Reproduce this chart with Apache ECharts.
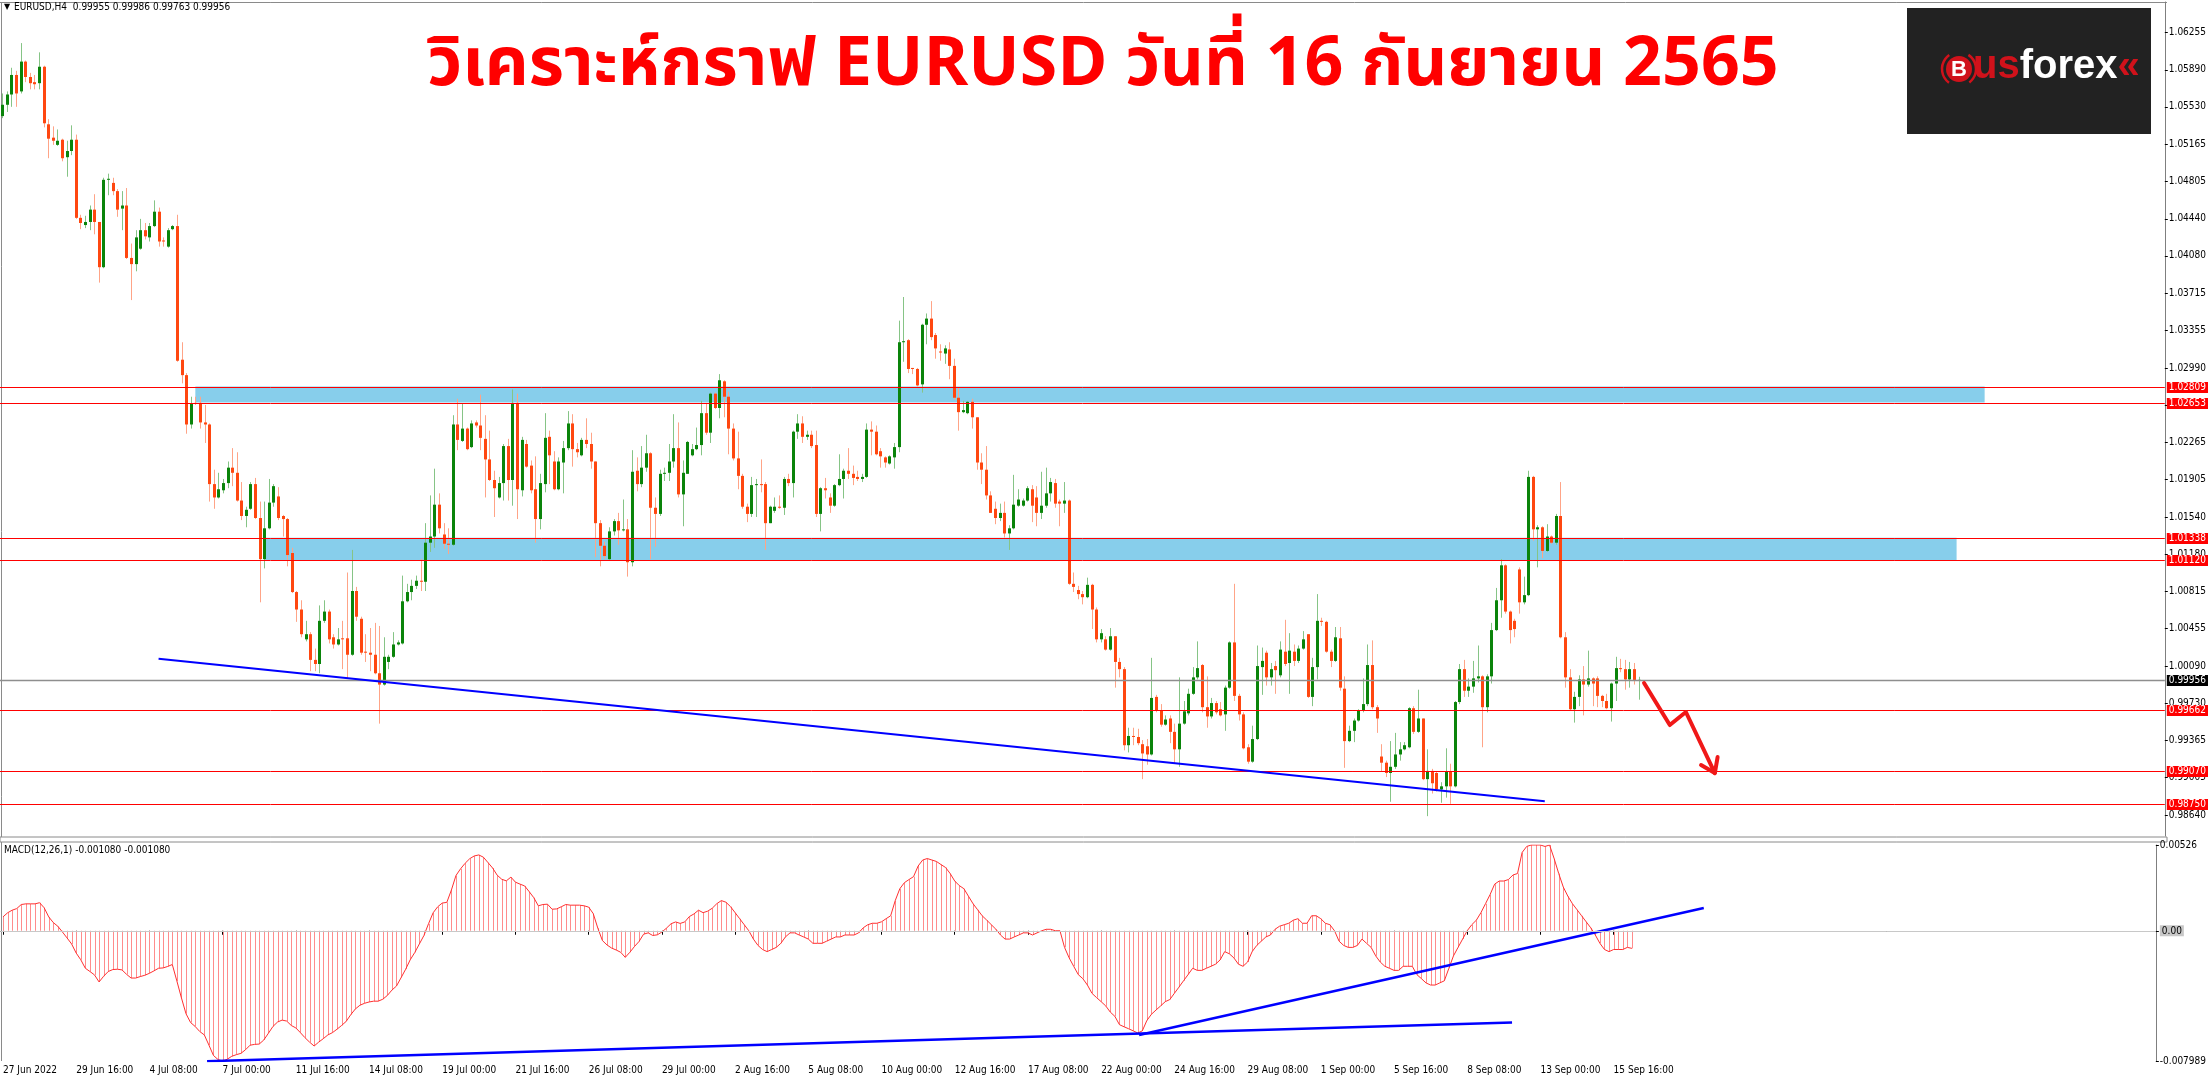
<!DOCTYPE html>
<html><head><meta charset="utf-8">
<script src="https://cdn.jsdelivr.net/npm/echarts@6/dist/echarts.min.js"></script>
<style>html,body{margin:0;padding:0;background:#fff;}#c{width:2209px;height:1080px;}</style>
</head><body><div id="c"></div>
<script>
const tickLabels = ['27 Jun 2022','29 Jun 16:00','4 Jul 08:00','7 Jul 00:00','11 Jul 16:00','14 Jul 08:00','19 Jul 00:00','21 Jul 16:00','26 Jul 08:00','29 Jul 00:00','2 Aug 16:00','5 Aug 08:00','10 Aug 00:00','12 Aug 16:00','17 Aug 08:00','22 Aug 00:00','24 Aug 16:00','29 Aug 08:00','1 Sep 00:00','5 Sep 16:00','8 Sep 08:00','13 Sep 00:00','15 Sep 16:00'];

const open = [
1.0544,1.0555,1.0565,1.0584,1.0568,1.0597,1.0582,1.0577,1.0576,1.0592,
1.0536,1.0523,1.0516,1.0521,1.0504,1.0510,1.0521,1.0445,1.0438,1.0441,
1.0453,1.0441,1.0397,1.0482,1.0479,1.0471,1.0454,1.0457,1.0406,1.0400,
1.0415,1.0433,1.0426,1.0437,1.0451,1.0423,1.0417,1.0434,1.0437,1.0307,
1.0292,1.0244,1.0265,1.0265,1.0246,1.0244,1.0186,1.0173,1.0180,1.0187,
1.0202,1.0197,1.0170,1.0155,1.0162,1.0186,1.0153,1.0113,1.0143,1.0168,
1.0174,1.0155,1.0152,1.0119,1.0081,1.0064,1.0035,1.0040,1.0015,1.0011,
1.0053,1.0062,1.0037,1.0030,1.0036,1.0036,1.0020,1.0082,1.0055,1.0023,
1.0022,1.0020,1.0002,0.9991,1.0013,1.0018,1.0030,1.0031,1.0072,1.0081,
1.0087,1.0092,1.0091,1.0129,1.0135,1.0166,1.0137,1.0128,1.0127,1.0244,
1.0228,1.0240,1.0222,1.0246,1.0243,1.0230,1.0210,1.0190,1.0173,1.0187,
1.0223,1.0190,1.0265,1.0180,1.0225,1.0204,1.0181,1.0152,1.0186,1.0232,
1.0208,1.0181,1.0207,1.0221,1.0245,1.0220,1.0214,1.0229,1.0225,1.0208,
1.0148,1.0126,1.0113,1.0140,1.0150,1.0141,1.0142,1.0110,1.0199,1.0186,
1.0202,1.0216,1.0163,1.0157,1.0196,1.0197,1.0208,1.0221,1.0176,1.0196,
1.0214,1.0220,1.0224,1.0255,1.0236,1.0274,1.0260,1.0286,1.0271,1.0240,
1.0211,1.0194,1.0164,1.0157,1.0185,1.0186,1.0186,1.0148,1.0160,1.0164,
1.0163,1.0191,1.0187,1.0237,1.0245,1.0232,1.0234,1.0224,1.0157,1.0182,
1.0173,1.0165,1.0185,1.0191,1.0199,1.0196,1.0193,1.0191,1.0193,1.0239,
1.0237,1.0218,1.0212,1.0206,1.0212,1.0222,1.0324,1.0326,1.0299,1.0298,
1.0283,1.0341,1.0347,1.0331,1.0315,1.0313,1.0317,1.0301,1.0270,1.0256,
1.0255,1.0266,1.0251,1.0207,1.0200,1.0175,1.0162,1.0153,1.0158,1.0138,
1.0143,1.0165,1.0165,1.0170,1.0181,1.0173,1.0158,1.0165,1.0177,1.0187,
1.0169,1.0167,1.0170,1.0089,1.0083,1.0079,1.0076,1.0088,1.0064,1.0035,
1.0035,1.0025,1.0038,1.0013,1.0006,0.9932,0.9941,0.9940,0.9933,0.9931,
0.9923,0.9979,0.9966,0.9952,0.9958,0.9945,0.9928,0.9953,0.9963,0.9982,
0.9998,1.0010,0.9969,0.9960,0.9973,0.9967,0.9962,0.9988,1.0032,0.9980,
0.9962,0.9930,0.9916,0.9938,1.0008,1.0022,0.9998,1.0009,1.0000,1.0023,
1.0012,1.0023,1.0014,1.0026,1.0040,0.9979,1.0008,1.0053,1.0052,1.0023,
1.0014,1.0036,0.9987,0.9936,0.9946,0.9956,0.9966,0.9972,1.0010,0.9969,
0.9921,0.9915,0.9905,0.9911,0.9923,0.9928,0.9930,0.9968,0.9945,0.9958,
0.9899,0.9907,0.9905,0.9889,0.9892,0.9906,0.9892,0.9974,1.0006,0.9985,
0.9989,0.9997,0.9999,0.9969,0.9999,1.0044,1.0073,1.0107,1.0062,1.0053,
1.0103,1.0071,1.0078,1.0193,1.0142,1.0144,1.0121,1.0135,1.0129,1.0155,
1.0037,0.9998,0.9967,0.9979,0.9996,0.9991,0.9997,0.9997,0.9980,0.9975,
0.9968,0.9992,1.0007,1.0006,0.9996,1.0006,0.99955];

const high = [
1.0566,1.0568,1.0591,1.0588,1.0615,1.0598,1.0586,1.0584,1.0606,1.0593,
1.0541,1.0534,1.0531,1.0522,1.0520,1.0535,1.0526,1.0448,1.0447,1.0457,
1.0468,1.0441,1.0484,1.0488,1.0484,1.0473,1.0471,1.0474,1.0420,1.0433,
1.0444,1.0440,1.0440,1.0462,1.0455,1.0426,1.0435,1.0438,1.0448,1.0324,
1.0294,1.0271,1.0271,1.0271,1.0263,1.0245,1.0200,1.0197,1.0191,1.0208,
1.0221,1.0217,1.0188,1.0164,1.0188,1.0192,1.0169,1.0169,1.0191,1.0186,
1.0183,1.0156,1.0153,1.0124,1.0082,1.0073,1.0053,1.0042,1.0026,1.0068,
1.0073,1.0064,1.0040,1.0046,1.0053,1.0100,1.0122,1.0086,1.0057,1.0040,
1.0046,1.0051,1.0048,1.0037,1.0020,1.0042,1.0034,1.0097,1.0089,1.0093,
1.0097,1.0113,1.0148,1.0175,1.0201,1.0177,1.0148,1.0143,1.0253,1.0269,
1.0264,1.0241,1.0248,1.0248,1.0273,1.0253,1.0238,1.0199,1.0193,1.0225,
1.0230,1.0278,1.0274,1.0232,1.0229,1.0209,1.0213,1.0196,1.0255,1.0238,
1.0218,1.0212,1.0228,1.0257,1.0254,1.0226,1.0231,1.0250,1.0236,1.0208,
1.0151,1.0130,1.0144,1.0152,1.0158,1.0171,1.0152,1.0219,1.0212,1.0223,
1.0234,1.0217,1.0173,1.0200,1.0202,1.0225,1.0254,1.0246,1.0209,1.0228,
1.0225,1.0241,1.0267,1.0265,1.0275,1.0275,1.0293,1.0287,1.0276,1.0245,
1.0237,1.0196,1.0167,1.0193,1.0191,1.0210,1.0188,1.0165,1.0173,1.0175,
1.0193,1.0196,1.0238,1.0254,1.0252,1.0238,1.0238,1.0238,1.0183,1.0192,
1.0177,1.0186,1.0215,1.0201,1.0221,1.0204,1.0199,1.0196,1.0245,1.0247,
1.0243,1.0221,1.0213,1.0214,1.0226,1.0345,1.0368,1.0327,1.0299,1.0299,
1.0342,1.0352,1.0364,1.0333,1.0322,1.0321,1.0324,1.0308,1.0280,1.0267,
1.0267,1.0269,1.0251,1.0216,1.0223,1.0179,1.0169,1.0167,1.0169,1.0146,
1.0195,1.0181,1.0172,1.0184,1.0185,1.0184,1.0198,1.0202,1.0192,1.0191,
1.0171,1.0188,1.0171,1.0100,1.0087,1.0082,1.0095,1.0089,1.0066,1.0045,
1.0038,1.0046,1.0038,1.0017,1.0008,0.9949,0.9949,0.9948,0.9937,0.9938,
1.0017,0.9981,0.9972,0.9961,0.9961,0.9953,0.9998,0.9975,0.9987,1.0008,
1.0033,1.0011,0.9999,0.9978,0.9975,0.9974,0.9990,1.0033,1.0089,0.9982,
0.9964,0.9933,0.9951,1.0029,1.0027,1.0024,1.0012,1.0014,1.0033,1.0054,
1.0041,1.0030,1.0029,1.0043,1.0040,1.0017,1.0079,1.0056,1.0053,1.0025,
1.0047,1.0047,0.9999,0.9951,0.9958,0.9967,0.9997,1.0030,1.0034,0.9971,
0.9933,0.9917,0.9936,0.9944,0.9935,0.9935,0.9969,0.9970,0.9986,0.9958,
0.9928,0.9909,0.9906,0.9896,0.9929,0.9914,0.9975,1.0011,1.0015,0.9997,
1.0014,1.0029,1.0000,1.0001,1.0051,1.0085,1.0113,1.0108,1.0063,1.0055,
1.0105,1.0096,1.0199,1.0194,1.0146,1.0145,1.0147,1.0136,1.0157,1.0188,
1.0042,1.0006,0.9984,1.0000,1.0009,1.0024,0.9998,0.9999,0.9981,0.9982,
0.9993,1.0018,1.0016,1.0015,1.0013,1.0012,0.99986];

const low = [
1.0542,1.0548,1.0553,1.0553,1.0566,1.0577,1.0570,1.0570,1.0570,1.0533,
1.0503,1.0516,1.0515,1.0500,1.0485,1.0506,1.0444,1.0434,1.0435,1.0433,
1.0429,1.0382,1.0396,1.0467,1.0467,1.0446,1.0433,1.0405,1.0365,1.0393,
1.0414,1.0424,1.0422,1.0436,1.0417,1.0417,1.0416,1.0433,1.0305,1.0284,
1.0235,1.0240,1.0263,1.0240,1.0226,1.0169,1.0162,1.0172,1.0177,1.0182,
1.0184,1.0169,1.0151,1.0144,1.0161,1.0152,1.0071,1.0104,1.0142,1.0164,
1.0151,1.0135,1.0106,1.0080,1.0052,1.0037,1.0033,1.0004,1.0004,1.0002,
1.0051,1.0031,1.0026,1.0029,1.0006,0.9997,1.0019,1.0053,1.0020,1.0013,
1.0004,1.0001,0.9953,0.9990,1.0006,1.0017,1.0029,1.0030,1.0071,1.0073,
1.0084,1.0082,1.0082,1.0120,1.0124,1.0138,1.0123,1.0118,1.0126,1.0219,
1.0227,1.0219,1.0221,1.0241,1.0219,1.0173,1.0189,1.0154,1.0172,1.0170,
1.0170,1.0165,1.0152,1.0174,1.0202,1.0177,1.0129,1.0142,1.0178,1.0186,
1.0180,1.0180,1.0177,1.0219,1.0203,1.0212,1.0213,1.0221,1.0201,1.0115,
1.0106,1.0113,1.0112,1.0136,1.0127,1.0140,1.0096,1.0106,1.0179,1.0183,
1.0198,1.0113,1.0125,1.0155,1.0189,1.0189,1.0202,1.0173,1.0145,1.0196,
1.0213,1.0219,1.0214,1.0234,1.0226,1.0259,1.0250,1.0251,1.0215,1.0209,
1.0181,1.0162,1.0149,1.0154,1.0154,1.0178,1.0122,1.0148,1.0158,1.0162,
1.0156,1.0184,1.0173,1.0230,1.0226,1.0229,1.0221,1.0154,1.0140,1.0172,
1.0158,1.0164,1.0184,1.0172,1.0191,1.0185,1.0189,1.0188,1.0192,1.0214,
1.0214,1.0202,1.0202,1.0205,1.0201,1.0217,1.0305,1.0294,1.0293,1.0281,
1.0275,1.0322,1.0326,1.0308,1.0306,1.0303,1.0288,1.0268,1.0238,1.0255,
1.0254,1.0240,1.0200,1.0186,1.0171,1.0158,1.0147,1.0150,1.0134,1.0122,
1.0142,1.0164,1.0164,1.0169,1.0149,1.0145,1.0152,1.0163,1.0169,1.0163,
1.0145,1.0158,1.0088,1.0081,1.0074,1.0069,1.0075,1.0045,1.0032,1.0032,
1.0024,1.0024,0.9988,0.9998,0.9927,0.9925,0.9932,0.9932,0.9899,0.9913,
0.9922,0.9964,0.9950,0.9951,0.9934,0.9914,0.9911,0.9952,0.9961,0.9981,
0.9996,0.9964,0.9949,0.9958,0.9962,0.9960,0.9946,0.9987,0.9975,0.9956,
0.9928,0.9914,0.9915,0.9937,0.9981,0.9990,0.9990,0.9982,0.9998,1.0009,
0.9982,1.0009,1.0012,1.0025,0.9978,0.9970,0.9996,1.0048,1.0022,1.0008,
1.0013,0.9985,0.9910,0.9935,0.9935,0.9955,0.9964,0.9970,0.9967,0.9944,
0.9906,0.9901,0.9877,0.9909,0.9917,0.9927,0.9929,0.9943,0.9944,0.9898,
0.9863,0.9885,0.9887,0.9876,0.9881,0.9875,0.9891,0.9972,0.9979,0.9979,
0.9983,0.9993,0.9930,0.9964,0.9992,1.0043,1.0056,1.0060,1.0031,1.0037,
1.0060,1.0069,1.0077,1.0131,1.0105,1.0114,1.0120,1.0128,1.0127,1.0036,
0.9988,0.9966,0.9954,0.9970,0.9961,0.9989,0.9970,0.9969,0.9969,0.9967,
0.9955,0.9975,1.0003,0.9986,0.9988,0.9991,0.99763];

const close = [
1.0555,1.0565,1.0584,1.0566,1.0597,1.0582,1.0576,1.0575,1.0592,1.0537,
1.0522,1.0520,1.0520,1.0503,1.0510,1.0521,1.0445,1.0440,1.0441,1.0453,
1.0441,1.0397,1.0482,1.0483,1.0471,1.0453,1.0457,1.0406,1.0400,1.0426,
1.0433,1.0427,1.0437,1.0451,1.0422,1.0422,1.0433,1.0437,1.0306,1.0292,
1.0244,1.0264,1.0264,1.0246,1.0244,1.0186,1.0173,1.0181,1.0187,1.0202,
1.0197,1.0170,1.0155,1.0161,1.0186,1.0153,1.0113,1.0143,1.0168,1.0184,
1.0153,1.0152,1.0117,1.0081,1.0064,1.0040,1.0040,1.0015,1.0011,1.0053,
1.0062,1.0035,1.0030,1.0035,1.0035,1.0020,1.0082,1.0057,1.0022,1.0022,
1.0020,1.0002,0.9991,1.0018,1.0018,1.0030,1.0032,1.0072,1.0081,1.0087,
1.0092,1.0091,1.0129,1.0135,1.0166,1.0143,1.0128,1.0127,1.0244,1.0229,
1.0240,1.0220,1.0245,1.0243,1.0231,1.0210,1.0190,1.0182,1.0187,1.0223,
1.0190,1.0265,1.0181,1.0229,1.0203,1.0180,1.0152,1.0187,1.0231,1.0214,
1.0181,1.0208,1.0221,1.0245,1.0220,1.0217,1.0229,1.0225,1.0208,1.0148,
1.0126,1.0116,1.0140,1.0150,1.0141,1.0142,1.0110,1.0198,1.0186,1.0202,
1.0216,1.0163,1.0157,1.0196,1.0197,1.0208,1.0221,1.0176,1.0197,1.0227,
1.0220,1.0224,1.0255,1.0236,1.0274,1.0260,1.0287,1.0271,1.0240,1.0211,
1.0194,1.0164,1.0157,1.0185,1.0186,1.0185,1.0148,1.0164,1.0164,1.0163,
1.0191,1.0187,1.0237,1.0245,1.0232,1.0234,1.0223,1.0157,1.0182,1.0180,
1.0165,1.0185,1.0191,1.0199,1.0196,1.0192,1.0191,1.0193,1.0239,1.0237,
1.0215,1.0213,1.0207,1.0213,1.0222,1.0324,1.0325,1.0298,1.0298,1.0282,
1.0341,1.0347,1.0329,1.0318,1.0314,1.0318,1.0301,1.0270,1.0256,1.0258,
1.0266,1.0251,1.0207,1.0200,1.0175,1.0158,1.0153,1.0158,1.0138,1.0143,
1.0166,1.0171,1.0170,1.0182,1.0165,1.0158,1.0165,1.0177,1.0188,1.0167,
1.0167,1.0170,1.0089,1.0086,1.0079,1.0076,1.0088,1.0064,1.0035,1.0041,
1.0025,1.0038,1.0013,1.0006,0.9932,0.9941,0.9940,0.9934,0.9924,0.9923,
0.9978,0.9966,0.9952,0.9957,0.9945,0.9928,0.9953,0.9965,0.9982,0.9998,
1.0007,0.9969,0.9960,0.9973,0.9964,0.9961,0.9988,1.0032,0.9980,0.9962,
0.9929,0.9916,0.9938,1.0009,1.0014,0.9998,1.0006,1.0005,1.0025,1.0011,
1.0024,1.0014,1.0026,1.0035,0.9979,1.0008,1.0053,1.0052,1.0023,1.0014,
1.0037,0.9988,0.9936,0.9946,0.9956,0.9966,0.9972,1.0010,0.9969,0.9958,
0.9915,0.9905,0.9911,0.9923,0.9928,0.9932,0.9968,0.9945,0.9958,0.9899,
0.9907,0.9895,0.9889,0.9892,0.9906,0.9892,0.9974,1.0006,0.9985,0.9989,
0.9997,0.9999,0.9969,0.9999,1.0044,1.0073,1.0107,1.0062,1.0044,1.0045,
1.0071,1.0078,1.0193,1.0142,1.0144,1.0121,1.0135,1.0129,1.0155,1.0037,
0.9998,0.9967,0.9979,0.9996,0.9991,0.9997,0.9992,0.9980,0.9975,0.9968,
0.9992,1.0007,1.0006,0.9996,1.0006,0.99955,0.99956];

const macd = [
0.00085,0.00110,0.00126,0.00136,0.00161,0.00165,0.00165,0.00165,0.00172,0.00141,
0.00085,0.00050,0.00027,-0.00008,-0.00044,-0.00081,-0.00137,-0.00178,-0.00230,-0.00250,
-0.00271,-0.00314,-0.00279,-0.00250,-0.00238,-0.00236,-0.00240,-0.00267,-0.00290,-0.00290,
-0.00281,-0.00273,-0.00261,-0.00246,-0.00230,-0.00228,-0.00219,-0.00207,-0.00308,-0.00412,
-0.00509,-0.00563,-0.00587,-0.00618,-0.00639,-0.00701,-0.00765,-0.00790,-0.00799,-0.00788,
-0.00770,-0.00760,-0.00752,-0.00730,-0.00702,-0.00697,-0.00695,-0.00670,-0.00629,-0.00587,
-0.00560,-0.00548,-0.00554,-0.00581,-0.00596,-0.00625,-0.00656,-0.00683,-0.00707,-0.00683,
-0.00662,-0.00639,-0.00625,-0.00604,-0.00581,-0.00556,-0.00515,-0.00480,-0.00457,-0.00445,
-0.00437,-0.00432,-0.00432,-0.00420,-0.00397,-0.00364,-0.00339,-0.00288,-0.00236,-0.00178,
-0.00133,-0.00081,-0.00029,0.00043,0.00110,0.00147,0.00170,0.00174,0.00250,0.00339,
0.00380,0.00414,0.00442,0.00459,0.00465,0.00451,0.00418,0.00385,0.00341,0.00316,
0.00306,0.00329,0.00298,0.00286,0.00275,0.00240,0.00203,0.00153,0.00161,0.00163,
0.00132,0.00134,0.00147,0.00161,0.00157,0.00157,0.00157,0.00153,0.00145,0.00105,
0.00016,-0.00060,-0.00087,-0.00106,-0.00118,-0.00132,-0.00163,-0.00132,-0.00097,-0.00066,
-0.00021,-0.00013,-0.00029,-0.00025,-0.00008,0.00016,0.00043,0.00054,0.00045,0.00054,
0.00087,0.00103,0.00126,0.00111,0.00120,0.00138,0.00166,0.00185,0.00175,0.00148,
0.00111,0.00074,0.00037,0.00000,-0.00051,-0.00090,-0.00115,-0.00128,-0.00115,-0.00102,
-0.00077,-0.00038,-0.00013,-0.00013,-0.00026,-0.00038,-0.00051,-0.00077,-0.00077,-0.00077,
-0.00064,-0.00051,-0.00038,-0.00038,-0.00026,-0.00026,-0.00026,-0.00013,0.00018,0.00037,
0.00046,0.00046,0.00055,0.00074,0.00092,0.00185,0.00258,0.00295,0.00314,0.00332,
0.00397,0.00434,0.00443,0.00434,0.00425,0.00406,0.00388,0.00351,0.00305,0.00277,
0.00258,0.00212,0.00166,0.00129,0.00092,0.00065,0.00037,0.00009,-0.00026,-0.00051,
-0.00051,-0.00038,-0.00026,-0.00013,-0.00013,-0.00026,-0.00013,0.00000,0.00009,0.00009,
0.00000,0.00000,-0.00102,-0.00166,-0.00218,-0.00269,-0.00294,-0.00333,-0.00384,-0.00410,
-0.00435,-0.00461,-0.00499,-0.00525,-0.00576,-0.00589,-0.00601,-0.00614,-0.00627,-0.00614,
-0.00550,-0.00512,-0.00486,-0.00461,-0.00435,-0.00422,-0.00384,-0.00346,-0.00307,-0.00269,
-0.00230,-0.00243,-0.00243,-0.00230,-0.00218,-0.00205,-0.00179,-0.00128,-0.00141,-0.00166,
-0.00205,-0.00218,-0.00192,-0.00128,-0.00090,-0.00064,-0.00038,-0.00026,0.00009,0.00028,
0.00037,0.00046,0.00065,0.00074,0.00046,0.00046,0.00092,0.00092,0.00074,0.00046,
0.00037,0.00000,-0.00064,-0.00090,-0.00102,-0.00102,-0.00090,-0.00051,-0.00077,-0.00102,
-0.00154,-0.00192,-0.00218,-0.00230,-0.00243,-0.00243,-0.00218,-0.00218,-0.00218,-0.00269,
-0.00294,-0.00320,-0.00333,-0.00333,-0.00320,-0.00307,-0.00230,-0.00154,-0.00102,-0.00051,
0.00000,0.00037,0.00065,0.00111,0.00166,0.00222,0.00286,0.00305,0.00305,0.00314,
0.00342,0.00351,0.00480,0.00517,0.00526,0.00526,0.00526,0.00517,0.00526,0.00443,
0.00351,0.00268,0.00212,0.00166,0.00129,0.00092,0.00055,0.00018,-0.00026,-0.00077,
-0.00115,-0.00128,-0.00115,-0.00115,-0.00115,-0.00102,-0.00108];

const priceTicks = [1.06255,1.05890,1.05530,1.05165,1.04805,1.04440,1.04080,1.03715,1.03355,1.02990,1.02625,1.02265,1.01905,1.01540,1.01180,1.00815,1.00455,1.00090,0.99730,0.99365,0.99005,0.98640];
const macdTicks = [0.00526, 0, -0.007989];
const macdTickText = ['0.00526', '0.00', '-0.007989'];
const levels = [1.02809, 1.02653, 1.01338, 1.01120, 0.99662, 0.99070, 0.98750];
const lastPrice = 0.99956;
const zoneBars = [[42.0, 431.3], [57.2, 425.2]];
const zonePrices = [[1.02653, 1.02809], [1.01120, 1.01338]];
const priceTrend = [[34.0, 1.00162], [335.6, 0.98774]];
const arrowPath = [[357.2, 0.99925], [362.8, 0.99516], [366.3, 0.99643], [372.6, 0.99049]];
const arrowHead = [[369.6, 0.99127], [372.6, 0.99049], [373.2, 0.99205]];
const macdTrend1 = [[44.6, -0.00800], [329.8, -0.00562]];
const macdTrend2 = [[248.3, -0.00640], [371.7, 0.00140]];

const N = 471;
const cats = Array.from({length: N}, (_, i) => i);
const pMax = 1.065497, pMin = 0.984369;
const AX_FONT = "'Liberation Sans Narrow','DejaVu Sans Condensed','Liberation Sans',sans-serif";
const isTick = i => i % 16 === 0 && i / 16 < tickLabels.length;

const candleData = open.map((o, i) => [i, o, high[i], low[i], close[i]]);
const macdData = macd.map((v, i) => [i, v]);
const levelData = levels.map(v => [0, v, 0]).concat([[0, lastPrice, 1]]);

function renderCandle(params, api) {
  const i = api.value(0), o = api.value(1), h = api.value(2), l = api.value(3), c = api.value(4);
  const pH = api.coord([i, h]), pL = api.coord([i, l]), pO = api.coord([i, o]), pC = api.coord([i, c]);
  const up = c >= o;
  const x = Math.round(pH[0]);
  const top = Math.min(pO[1], pC[1]);
  const hgt = Math.max(1, Math.abs(pO[1] - pC[1]));
  return {type: 'group', children: [
    {type: 'line', shape: {x1: x + 0.5, y1: pH[1], x2: x + 0.5, y2: pL[1]}, style: {stroke: up ? '#86c486' : '#ffa487', lineWidth: 1}},
    {type: 'rect', shape: {x: x - 1, y: top, width: 3, height: hgt}, style: {fill: up ? '#0a840a' : '#ff4710'}}
  ]};
}
function renderHist(params, api) {
  const i = api.value(0), v = api.value(1);
  const p0 = api.coord([i, 0]), p1 = api.coord([i, v]);
  const x = Math.round(p0[0]) + 0.5;
  return {type: 'line', shape: {x1: x, y1: p0[1], x2: x, y2: p1[1]}, style: {stroke: '#ff8c8c', lineWidth: 1}};
}
function renderLevel(params, api) {
  const v = api.value(1), kind = api.value(2);
  const cs = params.coordSys;
  const y = Math.round(api.coord([0, v])[1]) + 0.5;
  const isLast = kind === 1;
  return {type: 'group', children: [
    {type: 'line', shape: {x1: cs.x, y1: y, x2: cs.x + cs.width, y2: y}, style: {stroke: isLast ? '#8e8e8e' : '#ff0000', lineWidth: isLast ? 1.5 : 1}},
    {type: 'text', x: cs.x + cs.width + 2, y: y, style: {text: v.toFixed(5), fill: '#ffffff', backgroundColor: isLast ? '#000000' : '#ff0000',
      padding: [1, 2, 0, 2], fontSize: 10, fontFamily: AX_FONT, align: 'left', verticalAlign: 'middle'}}
  ]};
}

const chart = echarts.init(document.getElementById('c'), null, {renderer: 'canvas'});

const option = {
  animation: false,
  backgroundColor: '#ffffff',
  grid: [
    {left: 0, top: 2, width: 2167, height: 834},
    {left: 0, top: 845, width: 2167, height: 216}
  ],
  xAxis: [
    {type: 'category', gridIndex: 0, data: cats, boundaryGap: true, axisLine: {show: false}, axisTick: {show: false}, axisLabel: {show: false}, splitLine: {show: false}},
    {type: 'category', gridIndex: 1, data: cats, boundaryGap: true,
      axisLine: {show: true, lineStyle: {color: '#7f7f7f', width: 1}},
      axisTick: {show: true, alignWithLabel: true, interval: (i) => isTick(i), length: 4, lineStyle: {color: '#000'}},
      axisLabel: {interval: (i) => isTick(i), formatter: (v, i) => tickLabels[i / 16], align: 'left', margin: 4, fontSize: 10, color: '#000', fontFamily: AX_FONT},
      splitLine: {show: false}},
    {type: 'value', gridIndex: 0, min: -0.5, max: N - 0.5, show: false},
    {type: 'value', gridIndex: 1, min: -0.5, max: N - 0.5, show: false}
  ],
  yAxis: [
    {type: 'value', gridIndex: 0, position: 'right', min: pMin, max: pMax, scale: true, splitLine: {show: false},
      axisLine: {show: true, onZero: false, lineStyle: {color: '#7f7f7f'}},
      axisTick: {show: true, length: 3, customValues: priceTicks, lineStyle: {color: '#000'}},
      axisLabel: {customValues: priceTicks, formatter: v => v.toFixed(5), fontSize: 10, color: '#000', margin: 4, fontFamily: AX_FONT}},
    {type: 'value', gridIndex: 1, position: 'right', min: -0.007989, max: 0.00526, splitLine: {show: false},
      axisLine: {show: true, onZero: false, lineStyle: {color: '#7f7f7f'}},
      axisTick: {show: true, length: 3, customValues: macdTicks, lineStyle: {color: '#000'}},
      axisLabel: {customValues: macdTicks, fontSize: 10, color: '#000', margin: 4, fontFamily: AX_FONT,
        formatter: v => { const k = macdTicks.findIndex(t => Math.abs(t - v) < 1e-9); const s = k >= 0 ? macdTickText[k] : ''; return Math.abs(v) < 1e-12 ? '{z|' + s + '}' : s; },
        rich: {z: {backgroundColor: '#c8c8c8', padding: [1, 2, 0, 2], fontSize: 10, fontFamily: AX_FONT, color: '#000'}}}}
  ],
  series: [
    {type: 'line', name: 'zones', xAxisIndex: 2, yAxisIndex: 0, data: [[-10, 0.5]], symbol: 'none', silent: true, z: 1,
      lineStyle: {opacity: 0},
      markArea: {silent: true, itemStyle: {color: '#87ceeb', opacity: 1, borderWidth: 0}, data: zoneBars.map((b, k) => [{coord: [b[0], zonePrices[k][0]]}, {coord: [b[1], zonePrices[k][1]]}])}},
    {type: 'custom', name: 'EURUSD', xAxisIndex: 0, yAxisIndex: 0, renderItem: renderCandle, data: candleData, encode: {x: 0, y: [1, 2, 3, 4]}, z: 3, silent: true},
    {type: 'custom', name: 'levels', xAxisIndex: 0, yAxisIndex: 0, renderItem: renderLevel, data: levelData, encode: {x: 0, y: 1}, z: 5, silent: true, clip: false},
    {type: 'line', name: 'trend', xAxisIndex: 2, yAxisIndex: 0, data: priceTrend, symbol: 'none', z: 6, silent: true,
      lineStyle: {color: '#0000ff', width: 2}},
    {type: 'line', name: 'arrow', xAxisIndex: 2, yAxisIndex: 0, data: arrowPath, symbol: 'none', z: 6, silent: true,
      lineStyle: {color: '#f01818', width: 4, cap: 'round', join: 'round'}},
    {type: 'line', name: 'arrowHead', xAxisIndex: 2, yAxisIndex: 0, data: arrowHead, symbol: 'none', z: 6, silent: true,
      lineStyle: {color: '#f01818', width: 4, cap: 'round', join: 'round'}},
    {type: 'custom', name: 'MACD hist', xAxisIndex: 1, yAxisIndex: 1, renderItem: renderHist, data: macdData, encode: {x: 0, y: 1}, z: 2, silent: true,
      markLine: {silent: true, precision: 6, symbol: ['none', 'none'], label: {show: false}, data: [{yAxis: 0}], lineStyle: {color: '#c8c8c8', width: 1, type: 'solid'}}},
    {type: 'line', name: 'MACD', xAxisIndex: 1, yAxisIndex: 1, data: macdData, symbol: 'none', z: 3, silent: true,
      lineStyle: {color: '#ff3030', width: 1}},
    {type: 'line', name: 'mt1', xAxisIndex: 3, yAxisIndex: 1, data: macdTrend1, symbol: 'none', z: 4, silent: true, lineStyle: {color: '#0000ff', width: 2.5}},
    {type: 'line', name: 'mt2', xAxisIndex: 3, yAxisIndex: 1, data: macdTrend2, symbol: 'none', z: 4, silent: true, lineStyle: {color: '#0000ff', width: 2.5}}
  ],
  graphic: [
    {type: 'line', shape: {x1: 0, y1: 2.5, x2: 2167, y2: 2.5}, style: {stroke: '#8a8a8a', lineWidth: 1}, silent: true},
    {type: 'line', shape: {x1: 1.5, y1: 2, x2: 1.5, y2: 1061}, style: {stroke: '#8a8a8a', lineWidth: 1}, silent: true},
    {type: 'rect', shape: {x: 0, y: 837, width: 2167, height: 5}, style: {fill: '#ffffff', stroke: '#8a8a8a', lineWidth: 1}, silent: true},
    {type: 'text', left: 4, top: 3, style: {text: '\u25BC', fontSize: 8, fill: '#000', fontFamily: 'DejaVu Sans'}, silent: true},
    {type: 'text', left: 14, top: 2, style: {text: 'EURUSD,H4  0.99955 0.99986 0.99763 0.99956', fontSize: 10, fill: '#000', fontFamily: AX_FONT}, silent: true},
    {type: 'text', left: 4, top: 845, style: {text: 'MACD(12,26,1) -0.001080 -0.001080', fontSize: 10, fill: '#000', fontFamily: AX_FONT}, silent: true},
    {type: 'text', x: 1103, y: 71, style: {text: 'วิเคราะห์กราฟ EURUSD วันที่ 16 กันยายน 2565', fontSize: 68, fontWeight: 'bold', fill: '#ff0000', align: 'center', verticalAlign: 'middle', fontFamily: "'Noto Sans Thai','Noto Sans Thai UI','Loma','Garuda','Noto Sans','DejaVu Sans',sans-serif"}, silent: true},
    {type: 'group', silent: true, children: [
      {type: 'rect', shape: {x: 1907, y: 8, width: 244, height: 126}, style: {fill: '#222222'}},
      {type: 'arc', shape: {cx: 1959, cy: 69, r: 17, startAngle: 2.2, endAngle: 4.1}, style: {stroke: '#d0121b', lineWidth: 2.5, fill: null}},
      {type: 'arc', shape: {cx: 1959, cy: 69, r: 17, startAngle: 5.3, endAngle: 7.2}, style: {stroke: '#d0121b', lineWidth: 2.5, fill: null}},
      {type: 'circle', shape: {cx: 1959, cy: 69, r: 13}, style: {fill: '#d0121b'}},
      {type: 'text', x: 1959, y: 70, style: {text: 'B', fontSize: 22, fontWeight: 'bold', fill: '#ffffff', align: 'center', verticalAlign: 'middle', fontFamily: 'Liberation Sans'}},
      {type: 'text', x: 1973, y: 67, style: {text: '{r|us}{w|forex}{r|\u00AB}', verticalAlign: 'middle', align: 'left',
        rich: {r: {fill: '#d0121b', fontSize: 40, fontWeight: 'bold', fontFamily: "'Liberation Sans Narrow','Liberation Sans'"}, w: {fill: '#ffffff', fontSize: 40, fontWeight: 'bold', fontFamily: "'Liberation Sans Narrow','Liberation Sans'"}}}}
    ]}
  ]
};
chart.setOption(option);
const lens = [open.length, high.length, low.length, close.length, macd.length];
if (new Set(lens).size > 1) {
  chart.setOption({graphic: [{type: 'text', left: 300, top: 300, style: {text: 'LEN ' + lens.join(','), fontSize: 30, fill: '#f0f'}}]});
}
</script></body></html>
